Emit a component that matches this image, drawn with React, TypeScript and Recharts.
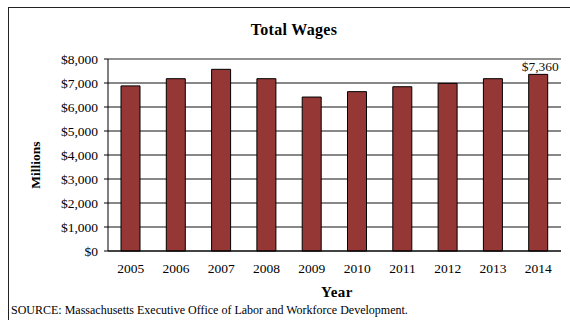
import React from 'react';
import { BarChart, Bar, XAxis, YAxis, CartesianGrid, ReferenceLine } from 'recharts';

const years = ['2005', '2006', '2007', '2008', '2009', '2010', '2011', '2012', '2013', '2014'];
const wages = [6880, 7180, 7570, 7180, 6415, 6640, 6845, 6985, 7180, 7360];
const yTicks = [0, 1000, 2000, 3000, 4000, 5000, 6000, 7000, 8000];
const boundaryTicks = [0, 1, 2, 3, 4, 5, 6, 7, 8, 9, 10];
const labeledYear = '2014';

const data = years.map((year, i) => ({ year, wages: wages[i], pos: i + 0.5 }));

const FONT = "'Liberation Serif', 'Times New Roman', serif";
const textStyle = { fontFamily: FONT };

const fmtDollar = (v: number) => '$' + v.toLocaleString('en-US');

const BarLabel = (props: any) => {
  const { x, y, width, index, value } = props;
  if (years[index] !== labeledYear) return <g />;
  return (
    <text x={x + width / 2 + 2} y={y - 3} textAnchor="middle" style={textStyle} fontSize={13.5} fill="#111">
      {fmtDollar(value)}
    </text>
  );
};

const XTick = (props: any) => {
  const { x, y, payload } = props;
  return (
    <text x={x} y={y + 10} textAnchor="middle" style={textStyle} fontSize={13.5} fill="#000">
      {payload.value}
    </text>
  );
};

const YTick = (props: any) => {
  const { x, y, payload } = props;
  return (
    <text x={x} y={y + 4.5} textAnchor="end" style={textStyle} fontSize={13.5} fill="#000">
      {fmtDollar(payload.value)}
    </text>
  );
};

const EmptyTick = () => <g />;

export default function App() {
  return (
    <div style={{ position: 'absolute', left: 0, top: 0, width: 570, height: 320, background: '#fff', fontFamily: FONT }}>
      <div style={{ position: 'absolute', left: 8, top: 7, width: 562, height: 313, borderLeft: '1.5px solid #222', borderTop: '1.5px solid #222' }} />
      <div style={{ position: 'absolute', left: 194, top: 21, width: 200, textAlign: 'center', fontWeight: 'bold', fontSize: 16, letterSpacing: 0.3 }}>Total Wages</div>
      <div style={{ position: 'absolute', left: 287, top: 284, width: 100, textAlign: 'center', fontWeight: 'bold', fontSize: 15, letterSpacing: 0.5 }}>Year</div>
      <div style={{ position: 'absolute', left: 11, top: 303, fontSize: 12, whiteSpace: 'nowrap' }}>
        SOURCE: Massachusetts Executive Office of Labor and Workforce Development.
      </div>
      <div
        style={{
          position: 'absolute',
          left: 36,
          top: 165,
          transform: 'translate(-50%, -50%) rotate(-90deg)',
          fontWeight: 'bold',
          fontSize: 13.5,
          whiteSpace: 'nowrap',
        }}
      >
        Millions
      </div>
      <div style={{ position: 'absolute', left: 0, top: 0 }}>
        <BarChart width={570} height={320} data={data} margin={{ top: 59, right: 9, bottom: 39, left: 48 }} style={textStyle}>
          <CartesianGrid vertical={false} stroke="#111" strokeWidth={1} />
          <XAxis
            xAxisId="t"
            type="number"
            dataKey="pos"
            domain={[0, 10]}
            ticks={boundaryTicks}
            tick={<EmptyTick />}
            tickLine={{ stroke: '#000' }}
            tickSize={4}
            axisLine={false}
            height={0}
          />
          <XAxis
            dataKey="year"
            tickLine={false}
            axisLine={{ stroke: '#000' }}
            tickSize={4}
            tickMargin={8}
            tick={<XTick />}
            height={30}
            interval={0}
          />
          <YAxis
            domain={[0, 8000]}
            ticks={yTicks}
            width={60}
            tickSize={4}
            tickMargin={6}
            tickLine={{ stroke: '#000' }}
            axisLine={{ stroke: '#000' }}
            tick={<YTick />}
            interval={0}
          />
          <YAxis
            yAxisId="r"
            orientation="right"
            domain={[0, 8000]}
            tick={false}
            tickLine={false}
            width={0}
            axisLine={{ stroke: '#999' }}
          />
          <ReferenceLine y={8000} stroke="#999" />
          <Bar dataKey="wages" fill="#953735" stroke="#000" strokeWidth={1} barSize={19} isAnimationActive={false} label={<BarLabel />} />
        </BarChart>
      </div>
    </div>
  );
}
